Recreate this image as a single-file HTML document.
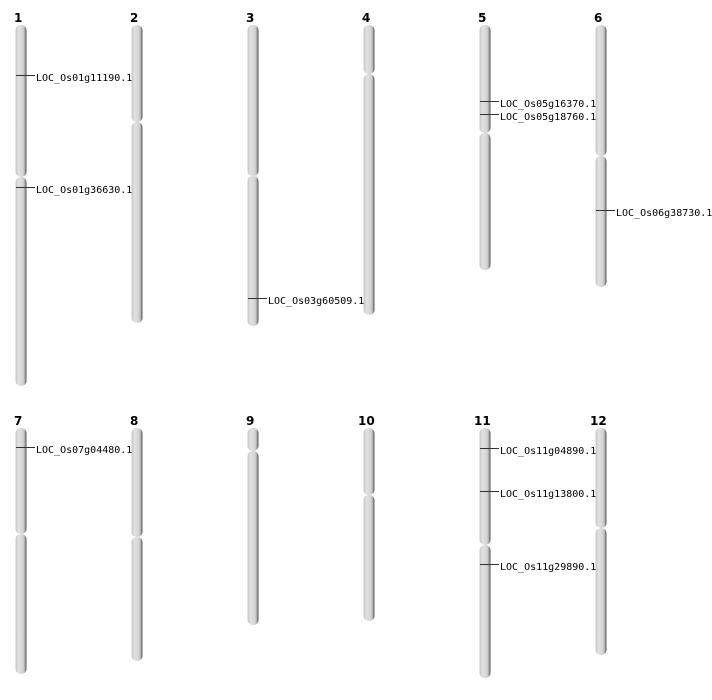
<!DOCTYPE html>
<html><head><meta charset="utf-8"><style>
html,body{margin:0;padding:0;background:#fff;}
svg{display:block;}
.n{font-family:"DejaVu Sans","Liberation Sans",sans-serif;font-weight:bold;font-size:12px;fill:#000;}
.l{font-family:"DejaVu Sans Mono","Liberation Mono",monospace;font-size:10px;fill:#000;}
</style></head><body>
<svg width="712" height="700" xmlns="http://www.w3.org/2000/svg">
<defs>
<linearGradient id="g" x1="0" x2="1" y1="0" y2="0">
<stop offset="0" stop-color="#c6c6c6"/>
<stop offset="0.3" stop-color="#e2e2e2"/>
<stop offset="0.7" stop-color="#d2d2d2"/>
<stop offset="0.85" stop-color="#a8a8a8"/>
<stop offset="1" stop-color="#4a4a4a"/>
</linearGradient>
</defs>
<g fill="url(#g)">
<rect x="15.5" y="25" width="11" height="152" rx="5"/><rect x="15.5" y="177" width="11" height="209" rx="5"/>
<rect x="131.5" y="25" width="11" height="97" rx="5"/><rect x="131.5" y="122" width="11" height="201" rx="5"/>
<rect x="247.5" y="25" width="11" height="151" rx="5"/><rect x="247.5" y="176" width="11" height="150" rx="5"/>
<rect x="363.5" y="25" width="11" height="49" rx="5"/><rect x="363.5" y="74" width="11" height="241" rx="5"/>
<rect x="479.5" y="25" width="11" height="108" rx="5"/><rect x="479.5" y="133" width="11" height="137" rx="5"/>
<rect x="595.5" y="25" width="11" height="131" rx="5"/><rect x="595.5" y="156" width="11" height="131" rx="5"/>
<rect x="15.5" y="428" width="11" height="106" rx="5"/><rect x="15.5" y="534" width="11" height="140" rx="5"/>
<rect x="131.5" y="428" width="11" height="109" rx="5"/><rect x="131.5" y="537" width="11" height="124" rx="5"/>
<rect x="247.5" y="428" width="11" height="23" rx="5"/><rect x="247.5" y="451" width="11" height="174" rx="5"/>
<rect x="363.5" y="428" width="11" height="67" rx="5"/><rect x="363.5" y="495" width="11" height="126" rx="5"/>
<rect x="479.5" y="428" width="11" height="117" rx="5"/><rect x="479.5" y="545" width="11" height="133" rx="5"/>
<rect x="595.5" y="428" width="11" height="100" rx="5"/><rect x="595.5" y="528" width="11" height="127" rx="5"/>
</g>
<g class="n">
<text x="14" y="22">1</text><text x="130" y="22">2</text><text x="246" y="22">3</text><text x="362" y="22">4</text><text x="478" y="22">5</text><text x="594" y="22">6</text>
<text x="14" y="425">7</text><text x="130" y="425">8</text><text x="246" y="425">9</text><text x="358" y="425">10</text><text x="474" y="425">11</text><text x="590" y="425">12</text>
</g>
<g stroke="#333" stroke-width="1">
<line x1="16" y1="75.5" x2="35" y2="75.5"/>
<line x1="16" y1="187.5" x2="35" y2="187.5"/>
<line x1="248" y1="298.5" x2="267" y2="298.5"/>
<line x1="480" y1="101.5" x2="499" y2="101.5"/>
<line x1="480" y1="114.5" x2="499" y2="114.5"/>
<line x1="596" y1="210.5" x2="615" y2="210.5"/>
<line x1="16" y1="447.5" x2="35" y2="447.5"/>
<line x1="480" y1="448.5" x2="499" y2="448.5"/>
<line x1="480" y1="491.5" x2="499" y2="491.5"/>
<line x1="480" y1="564.5" x2="499" y2="564.5"/>
</g>
<g class="l">
<text x="36" y="81">LOC_Os01g11190.1</text>
<text x="36" y="193">LOC_Os01g36630.1</text>
<text x="268" y="304">LOC_Os03g60509.1</text>
<text x="500" y="107">LOC_Os05g16370.1</text>
<text x="500" y="120">LOC_Os05g18760.1</text>
<text x="616" y="216">LOC_Os06g38730.1</text>
<text x="36" y="453">LOC_Os07g04480.1</text>
<text x="500" y="454">LOC_Os11g04890.1</text>
<text x="500" y="497">LOC_Os11g13800.1</text>
<text x="500" y="570">LOC_Os11g29890.1</text>
</g>
</svg>
</body></html>
